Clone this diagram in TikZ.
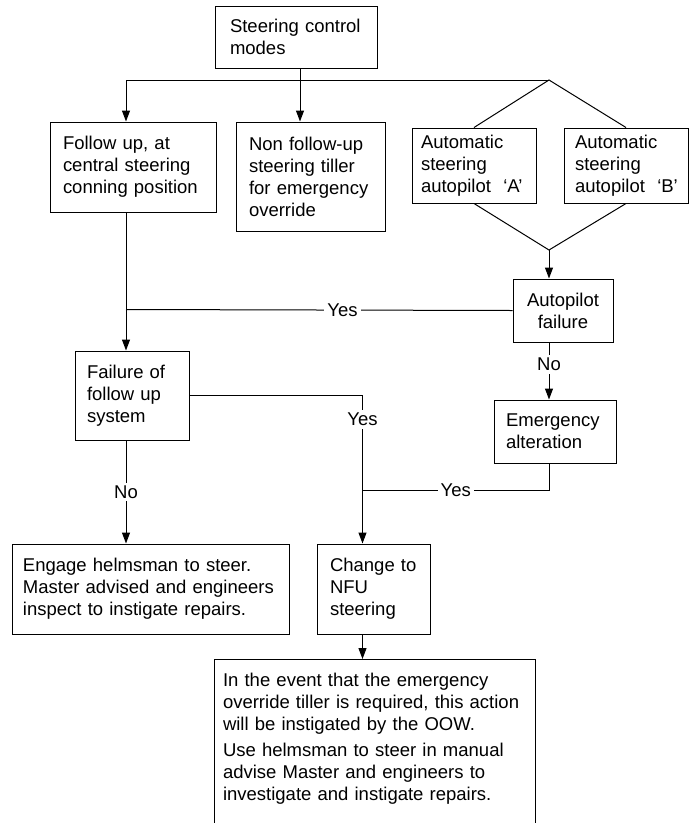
\documentclass[tikz,border=0pt]{standalone}
\usepackage{fontspec}
\setmainfont{Liberation Sans}
\usetikzlibrary{arrows.meta}
\newcommand{\fs}{\fontsize{18.5}{22}\selectfont}

\begin{document}
\begin{tikzpicture}[x=1pt, y=1pt, line width=1pt,
    box/.style={draw, align=left, font=\fs, inner ysep=0pt},
    lbl/.style={fill=white, inner sep=3pt, font=\fs},
    arr/.style={-{Triangle[length=11pt, width=8pt]}}]
    \useasboundingbox (0,0) rectangle (689,-823);

    % boxes
    \node[box, text width=132pt, inner xsep=15pt, minimum height=62pt] (modes) at (296,-37) {Steering control\\modes};
    \node[box, text width=140pt, inner xsep=13pt, minimum height=90pt] (follow) at (133,-167) {Follow up, at\\central steering\\conning position};
    \node[box, text width=123pt, inner xsep=13pt, minimum height=109pt] (nonfollow) at (310.5,-176.5) {Non follow-up\\steering tiller\\for emergency\\override};
    \node[box, text width=106pt, inner xsep=9pt, minimum height=75pt] (autoA) at (474,-165.5) {Automatic\\steering\\autopilot~~`A'};
    \node[box, text width=102pt, inner xsep=11pt, minimum height=75pt] (autoB) at (626,-165.5) {Automatic\\steering\\autopilot~~`B'};
    \node[box, align=center, text width=80pt, inner xsep=10pt, minimum height=63pt] (apfail) at (563,-310.5) {Autopilot\\failure};
    \node[box, text width=90pt, inner xsep=12pt, minimum height=89pt] (failure) at (132,-395.5) {Failure of\\follow up\\system};
    \node[box, text width=98pt, inner xsep=12pt, minimum height=63pt] (emerg) at (555,-431.5) {Emergency\\alteration};
    \node[box, text width=255pt, inner xsep=11pt, minimum height=90pt] (engage) at (150.5,-589) {Engage helmsman to steer.\\Master advised and engineers\\inspect to instigate repairs.};
    \node[box, text width=87pt, inner xsep=13pt, minimum height=90pt] (nfu) at (373.5,-589) {Change to\\NFU\\steering};
    \node[box, anchor=north, text width=303pt, inner xsep=9pt, inner ysep=14pt] (final) at (374.5,-659) {In the event that the emergency\\override tiller is required, this action\\will be instigated by the OOW.\\[4pt]Use helmsman to steer in manual\\advise Master and engineers to\\investigate and instigate repairs.\\\mbox{}};

    % junctions
    \coordinate (top) at (300,-80);
    \coordinate (topL) at (126,-80);
    \coordinate (topR) at (549,-80);
    \coordinate (join) at (549,-250);
    \coordinate (yesL) at (126,-309.5);
    \coordinate (turn) at (362.5,-394);
    \coordinate (merge) at (362.5,-490);

    % top split
    \draw (modes.south -| top) -- (top);
    \draw (topL) -- (topR);
    \draw[arr] (topL) -- (follow.north -| topL);
    \draw[arr] (top) -- (nonfollow.north -| top);
    \draw (autoA.north) -- (topR) -- (autoB.north);
    \draw (autoA.south) -- (join) -- (autoB.south);
    \draw[arr] (join) -- (apfail.north -| join);

    % decisions
    \draw (apfail.west) -- node[lbl, pos=0.44] {Yes} (yesL);
    \draw[arr] (follow.south -| yesL) -- (failure.north -| yesL);
    \draw[arr] (apfail.south -| join) -- node[lbl, pos=0.38] {No} (emerg.north -| join);
    \draw[arr] (failure.east) -| node[lbl, pos=0.58] {Yes} (nfu.north -| turn);
    \draw (emerg.south -| join) |- node[lbl, pos=0.75] {Yes} (merge);
    \draw[arr] (failure.south -| yesL) -- node[lbl] {No} (engage.north -| yesL);
    \draw[arr] (nfu.south -| turn) -- (final.north -| turn);
\end{tikzpicture}
\end{document}
